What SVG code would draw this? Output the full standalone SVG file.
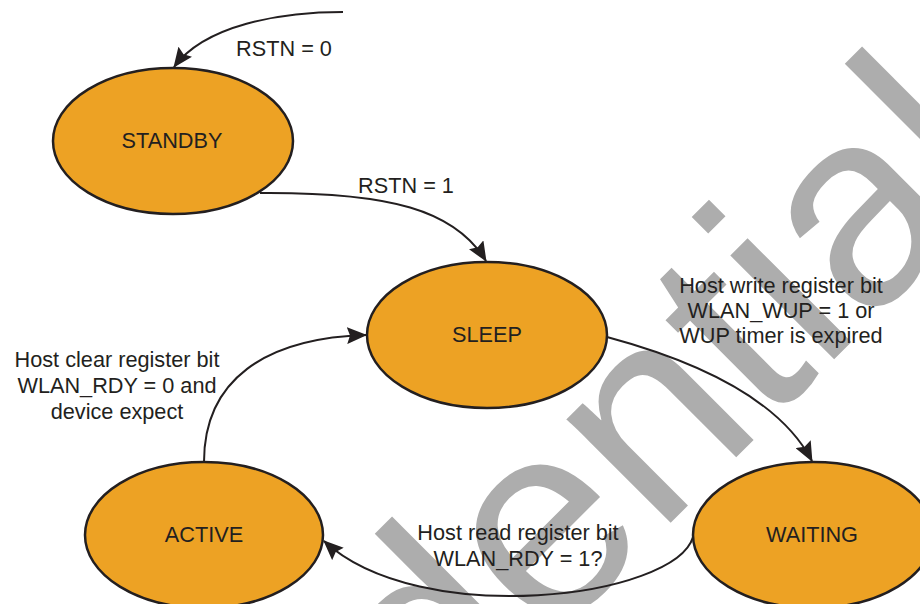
<svg xmlns="http://www.w3.org/2000/svg" width="920" height="604" viewBox="0 0 920 604">
<style>
.wm{font-family:"Liberation Sans",Arial,sans-serif;font-size:278px;fill:#adadad}
.node ellipse{fill:#eda224;stroke:#231f20;stroke-width:2.5}
.t{font-family:"Liberation Sans",Arial,sans-serif;font-size:21.7px;fill:#231f20;text-anchor:middle}
.edge{fill:none;stroke:#231f20;stroke-width:2;marker-end:url(#arr)}
</style>
<defs>
<marker id="arr" viewBox="0 0 20 17" refX="19" refY="8.5" markerWidth="20" markerHeight="17" markerUnits="userSpaceOnUse" orient="auto">
<path d="M0,0 L20,8.5 L0,17 L3,8.5 z" fill="#231f20"/>
</marker>
</defs>
<rect width="920" height="604" fill="#ffffff"/>
<text class="wm" x="-20.5" y="1214" transform="rotate(-45 -20.5 1214)">Confidential</text>
<g id="connectors">
<path class="edge" d="M343 12 C280 12 205 25 174 67"/>
<path class="edge" d="M260 193 C390 192 455 210 486 261"/>
<path class="edge" d="M607 337 C700 362 780 400 812 461"/>
<path class="edge" d="M693 537 C675 598 420 630 324 541"/>
<path class="edge" d="M204 462 C204 380 265 338 366 335"/>
</g>
<g id="standby" class="node"><ellipse cx="173" cy="141" rx="120" ry="73"/><text class="t" x="172" y="148">STANDBY</text></g>
<g id="sleep" class="node"><ellipse cx="487" cy="335" rx="120" ry="73"/><text class="t" x="487" y="342">SLEEP</text></g>
<g id="active" class="node"><ellipse cx="204" cy="535" rx="119" ry="73"/><text class="t" x="204" y="542">ACTIVE</text></g>
<g id="waiting" class="node"><ellipse cx="813" cy="535" rx="120" ry="73"/><text class="t" x="812" y="542">WAITING</text></g>
<g id="labels">
<text class="t" x="284" y="56">RSTN = 0</text>
<text class="t" x="406" y="193">RSTN = 1</text>
<text class="t" x="781" y="293">Host write register bit</text>
<text class="t" x="781" y="318">WLAN_WUP = 1 or</text>
<text class="t" x="781" y="343">WUP timer is expired</text>
<text class="t" x="117" y="367">Host clear register bit</text>
<text class="t" x="117" y="393">WLAN_RDY = 0 and</text>
<text class="t" x="117" y="419">device expect</text>
<text class="t" x="518" y="540">Host read register bit</text>
<text class="t" x="518" y="566">WLAN_RDY = 1?</text>
</g>
</svg>
